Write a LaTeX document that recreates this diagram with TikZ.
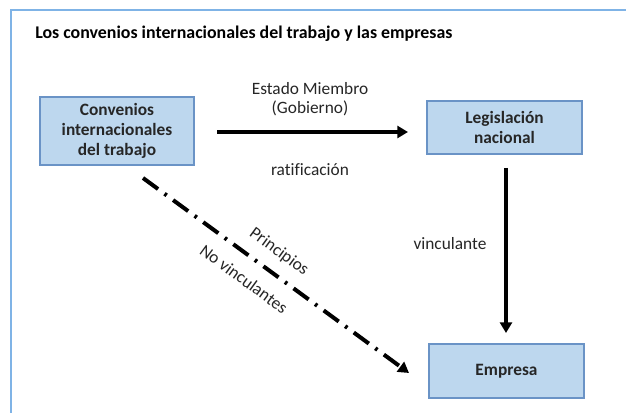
\documentclass[tikz,border=0pt]{standalone}
\usepackage{fontspec}
\setmainfont{Carlito}[Ligatures=CommonOff]
\usetikzlibrary{arrows.meta}
\definecolor{boxfill}{HTML}{BDD7EE}
\definecolor{boxdraw}{HTML}{6A93C6}
\definecolor{framecol}{HTML}{7FB3E6}
\definecolor{txt}{HTML}{262626}
\begin{document}
\begin{tikzpicture}[x=0.75pt,y=-0.75pt,
  bx/.style={draw=boxdraw,fill=boxfill,line width=1pt,align=center,font=\fontsize{13}{14.8}\selectfont\bfseries,text=txt,inner sep=0pt},
  lbl/.style={font=\fontsize{13}{13.8}\selectfont,text=txt,align=center},
  big/.style={line width=3.5pt,-{Triangle[length=8pt,width=9pt]}}]
\useasboundingbox (0,0) rectangle (626,413);
\fill[white] (0,0) rectangle (626,413);
\draw[framecol,line width=2pt] (11,413) -- (11,10) -- (626,10);
\node[anchor=west,font=\fontsize{13.4}{15}\selectfont\bfseries,text=black,inner sep=0pt] (title) at (35,34) {Los convenios internacionales del trabajo y las empresas};
\node[bx,minimum width=154*0.75pt,minimum height=68*0.75pt] (conv) at (117,131) {Convenios\\internacionales\\del trabajo};
\node[bx,minimum width=155*0.75pt,minimum height=53*0.75pt] (leg) at (504.5,127.5) {Legislación\\nacional};
\node[bx,minimum width=155*0.75pt,minimum height=54*0.75pt] (emp) at (506.5,371) {Empresa};
\coordinate (a1) at (217,132);
\coordinate (a2) at (408,132);
\draw[big] (a1) -- (a2);
\node[lbl] (estado) at (310,99) {Estado Miembro\\(Gobierno)};
\node[lbl] (ratif) at (310,170) {ratificación};
\coordinate (v1) at (506,168);
\coordinate (v2) at (506,333);
\draw[big] (v1) -- (v2);
\node[lbl] (vinc) at (450,244) {vinculante};
\coordinate (d1) at (143,178);
\coordinate (d2) at (409,373);
\draw[line width=3pt,dash pattern=on 14pt off 6pt on 2pt off 6pt,-{Triangle[length=8pt,width=9pt]}] (d1) -- (d2);
\node[lbl,rotate=-36.2,inner sep=0pt] (princ) at (279,252) {Principios};
\node[lbl,rotate=-36.2,inner sep=0pt] (novinc) at (244,279) {No vinculantes};
\end{tikzpicture}
\end{document}
